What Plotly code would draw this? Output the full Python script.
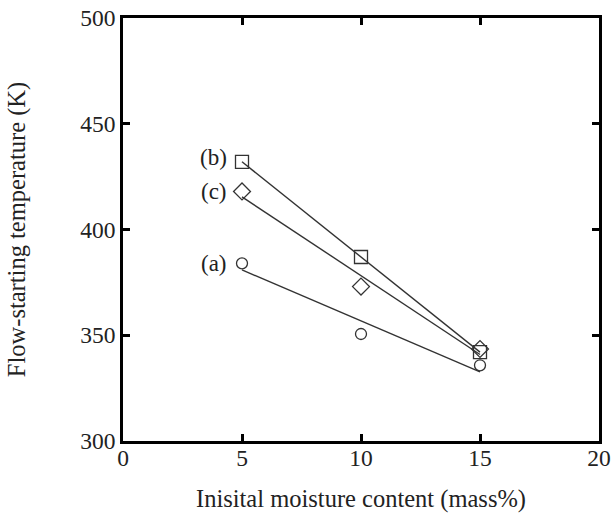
import numpy as np
import plotly.graph_objects as go

# Initial moisture content (mass%)
moisture = [5, 10, 15]

# Flow-starting temperature (K) for each sample
temp_a = [384, 350.6, 335.8]
temp_b = [432, 387, 342]
temp_c = [418, 373, 343.5]

series_labels = ["(a)", "(b)", "(c)"]
series_symbols = ["circle-open", "square-open", "diamond-open"]
series_sizes = [11, 13, 13]
label_yshift = [0, 4, 0]

FONT = "Liberation Serif, Times New Roman, serif"
INK = "#222222"

fig = go.Figure()

for label, temps, sym, size, ys in zip(series_labels, [temp_a, temp_b, temp_c],
                                        series_symbols, series_sizes, label_yshift):
    # least-squares line through the three points
    slope, intercept = np.polyfit(moisture, temps, 1)
    xs = np.array([moisture[0], moisture[-1]])
    fig.add_trace(go.Scatter(
        x=xs, y=slope * xs + intercept, mode="lines",
        line=dict(color="#333333", width=1.4), showlegend=False,
        hoverinfo="skip"))
    fig.add_trace(go.Scatter(
        x=moisture, y=temps, mode="markers",
        marker=dict(symbol=sym, size=size, color="#333333",
                    line=dict(width=1.3, color="#333333")),
        showlegend=False))
    fig.add_annotation(x=moisture[0], y=temps[0], text=label,
                       showarrow=False, xanchor="right", xshift=-13, yshift=ys,
                       font=dict(family=FONT, size=23, color=INK))

axis_common = dict(
    showline=True, linecolor="black", linewidth=2.5, mirror="ticks",
    ticks="inside", ticklen=7, tickwidth=2.5, tickcolor="black",
    showgrid=False, zeroline=False, automargin=False,
    tickfont=dict(family=FONT, size=23.5, color=INK),
)

fig.update_xaxes(range=[0, 20], tickvals=[0, 5, 10, 15, 20],
                 ticklabelstandoff=-6,
                 title=dict(text="Inisital moisture content (mass%)",
                            font=dict(family=FONT, size=24.5, color=INK),
                            standoff=20),
                 **axis_common)
fig.update_yaxes(range=[300, 500], tickvals=[300, 350, 400, 450, 500],
                 title=dict(text="Flow-starting temperature (K)",
                            font=dict(family=FONT, size=24.5, color=INK),
                            standoff=48),
                 **axis_common)

fig.update_layout(
    width=612, height=519,
    margin=dict(l=123, r=13, t=18, b=78),
    paper_bgcolor="white", plot_bgcolor="white",
)

fig.write_html("out.html")
